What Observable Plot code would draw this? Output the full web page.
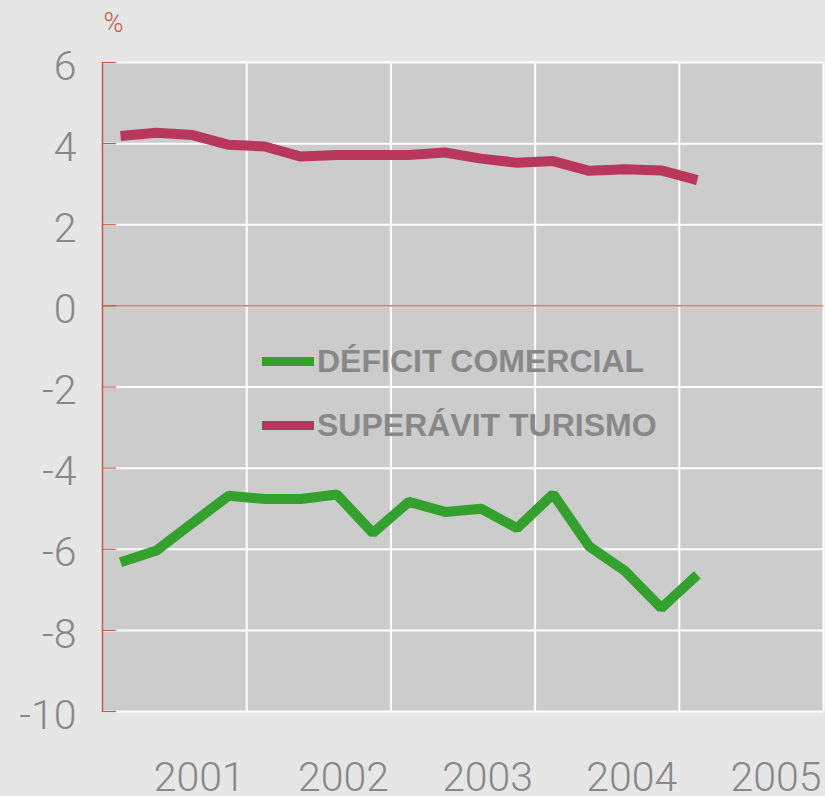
<!DOCTYPE html>
<html><head><meta charset="utf-8">
<script src="https://cdn.jsdelivr.net/npm/d3@7"></script>
<script src="https://cdn.jsdelivr.net/npm/@observablehq/plot@0.6"></script>
<style>
html,body{margin:0;padding:0;background:#e6e6e6;}
#wrap{position:relative;width:825px;height:796px;overflow:hidden;}
.row{position:absolute;left:262px;height:40px;line-height:40px;white-space:nowrap;font-family:"Liberation Sans",Arial,sans-serif;font-weight:bold;font-size:32px;color:#888888;}
.bar{display:inline-block;width:52px;height:9px;margin-right:3px;vertical-align:middle;position:relative;top:-2px;}
</style>
</head><body>
<div id="wrap"></div>
<script>
const quarters = ["2000-T1","2000-T2","2000-T3","2000-T4","2001-T1","2001-T2","2001-T3","2001-T4","2002-T1","2002-T2","2002-T3","2002-T4","2003-T1","2003-T2","2003-T3","2003-T4","2004-T1"];
const deficitComercial = [-6.32,-6.03,-5.35,-4.68,-4.76,-4.76,-4.65,-5.60,-4.83,-5.08,-5.00,-5.48,-4.64,-5.93,-6.54,-7.45,-6.63];
const superavitTurismo = [4.19,4.27,4.21,3.97,3.93,3.68,3.72,3.72,3.72,3.78,3.63,3.53,3.57,3.33,3.37,3.34,3.10];
const yTicks = [6,4,2,0,-2,-4,-6,-8,-10];
const xTicks = [2001,2002,2003,2004,2005];
const seriesNames = ["DÉFICIT COMERCIAL","SUPERÁVIT TURISMO"];
const seriesColors = ["#34a12e","#b9375d"];
const unitLabel = "%";

const axisRed = "#c45a44";
const toYear = q => { const [y, t] = q.split("-T"); return +y + (+t - 0.5) / 4; };
const series = [deficitComercial, superavitTurismo];
const data = series.flatMap((vals, s) => vals.map((v, i) => ({t: toYear(quarters[i]), v, s: seriesNames[s]})));

const chart = Plot.plot({
  width: 825,
  height: 796,
  marginLeft: 102,
  marginRight: 2,
  marginTop: 62,
  marginBottom: 85,
  style: {background: "transparent", fontFamily: "Roboto, 'Liberation Sans', sans-serif", overflow: "visible"},
  x: {domain: [2000, 2005], axis: null},
  y: {domain: [-10, 6], axis: null},
  color: {domain: seriesNames, range: seriesColors},
  marks: [
    Plot.frame({fill: "#cccccc", stroke: null}),
    Plot.ruleY(yTicks, {stroke: "white", strokeWidth: 2}),
    Plot.ruleX(xTicks, {stroke: "white", strokeWidth: 2}),
    Plot.ruleY([0], {stroke: axisRed, strokeWidth: 1.3}),
    Plot.tickY(yTicks, {y: d => d, stroke: axisRed, strokeWidth: 1.2, insetRight: 707}),
    Plot.ruleX([2000], {stroke: axisRed, strokeWidth: 1.5}),
    Plot.line(data, {x: "t", y: "v", z: "s", stroke: "s", strokeWidth: 10, strokeLinejoin: "miter", strokeLinecap: "butt"}),
    Plot.text(yTicks, {y: d => d, text: d => String(d), frameAnchor: "left", dx: -26, dy: 4, textAnchor: "end", lineAnchor: "middle", fontSize: 41, fontWeight: 300, fill: "#888888"}),
    Plot.text(xTicks, {x: d => d, text: d => String(d), frameAnchor: "bottom", dx: -2, dy: 79, textAnchor: "end", lineAnchor: "bottom", fontSize: 41, fontWeight: 300, fill: "#888888"}),
    Plot.text([unitLabel], {text: d => d, frameAnchor: "top-left", dx: 1, dy: -39, textAnchor: "start", lineAnchor: "middle", fontSize: 27, fontWeight: 300, fill: axisRed})
  ]
});
const wrap = document.getElementById("wrap");
wrap.appendChild(chart);
const centers = [361, 425];
seriesNames.forEach((name, i) => {
  const row = document.createElement("div");
  row.className = "row";
  row.style.top = (centers[i] - 20) + "px";
  const bar = document.createElement("span");
  bar.className = "bar";
  bar.style.background = seriesColors[i];
  row.appendChild(bar);
  row.appendChild(document.createTextNode(name));
  wrap.appendChild(row);
});
</script>
</body></html>
